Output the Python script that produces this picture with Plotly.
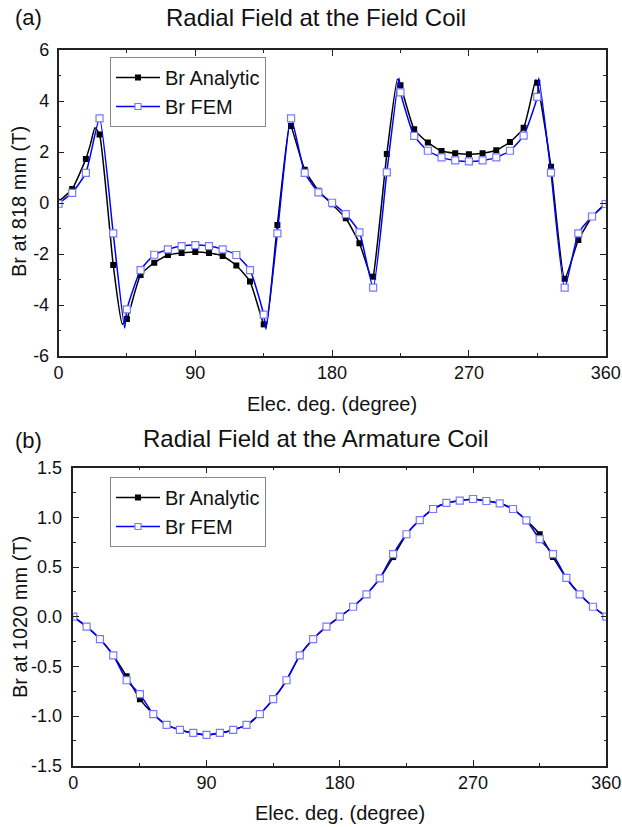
import plotly.graph_objects as go

# ------------------------------
# data (markers every 9 elec. deg)
# ------------------------------
deg = list(range(0, 361, 9))

# (a) radial field at the field coil, r = 818 mm
br_analytic_a = [0.05, 0.55, 1.73, 2.69, -2.43, -4.55, -2.82, -2.34, -2.04, -1.96,
                 -1.92, -1.96, -2.08, -2.45, -3.08, -4.76, -0.86, 3.02, 1.30, 0.48,
                 -0.05, -0.60, -1.58, -2.89, 1.92, 4.62, 2.89, 2.37, 2.04, 1.95,
                 1.91, 1.95, 2.07, 2.39, 2.95, 4.72, 1.42, -2.97, -1.45, -0.55,
                 0.00]
br_fem_a = [-0.03, 0.40, 1.18, 3.32, -1.19, -4.17, -2.63, -2.03, -1.82, -1.69,
            -1.65, -1.69, -1.82, -2.04, -2.63, -4.38, -1.19, 3.32, 1.18, 0.42,
            0.01, -0.44, -1.15, -3.32, 1.20, 4.34, 2.63, 2.05, 1.79, 1.67,
            1.63, 1.67, 1.79, 2.05, 2.64, 4.16, 1.19, -3.32, -1.19, -0.53,
            -0.04]

# the drawn lines are denser than the markers: peaks seen between markers
peak_deg_analytic_a = [21, 24, 42, 136.5, 152, 206, 223, 314]
peak_br_analytic_a = [2.30, 2.95, -4.75, -4.85, 3.10, -2.95, 4.85, 4.82]
peak_deg_fem_a = [43.5, 136.5, 224, 316]
peak_br_fem_a = [-4.90, -4.95, 4.90, 4.90]

# (b) radial field at the armature coil, r = 1020 mm
br_analytic_b = [0.00, -0.10, -0.225, -0.39, -0.60, -0.83, -0.98, -1.09, -1.14, -1.17,
                 -1.19, -1.17, -1.14, -1.09, -0.98, -0.83, -0.64, -0.39, -0.225, -0.10,
                 0.00, 0.10, 0.225, 0.386, 0.60, 0.83, 0.973, 1.084, 1.145, 1.168,
                 1.185, 1.165, 1.14, 1.084, 0.97, 0.83, 0.60, 0.39, 0.225, 0.10,
                 0.00]
br_fem_b = [0.00, -0.10, -0.225, -0.39, -0.64, -0.78, -0.98, -1.09, -1.14, -1.17,
            -1.19, -1.17, -1.14, -1.09, -0.98, -0.83, -0.64, -0.39, -0.225, -0.10,
            0.00, 0.10, 0.225, 0.386, 0.63, 0.83, 0.973, 1.084, 1.145, 1.168,
            1.185, 1.165, 1.14, 1.084, 0.97, 0.78, 0.63, 0.39, 0.225, 0.10,
            0.00]

x_ticks = [0, 90, 180, 270, 360]
y_ticks_a = [-6, -4, -2, 0, 2, 4, 6]
y_labels_a = ["-6", "-4", "-2", "0", "2", "4", "6"]
y_ticks_b = [-1.5, -1.0, -0.5, 0.0, 0.5, 1.0, 1.5]
y_labels_b = ["-1.5", "-1.0", "-0.5", "0.0", "0.5", "1.0", "1.5"]


def merged(xs, ys, extra_x, extra_y):
    pts = sorted(zip(xs + extra_x, ys + extra_y))
    return [p[0] for p in pts], [p[1] for p in pts]


BLACK = "#000000"
BLUE = "#0000ff"
LIGHT_BLUE = "#7878ff"
TXT = "#111111"
FONT = "Arial, Liberation Sans, sans-serif"
W, H = 622, 827


def px(x):
    return x / W


def py(y):
    return 1 - y / H


fig = go.Figure()


def add_pair(xa, ya, leg, line_a, line_f, fem_y, ana_y):
    # lines (denser data) and markers (9 deg)
    fig.add_trace(go.Scatter(x=line_a[0], y=line_a[1], mode="lines",
                             line=dict(color=BLACK, width=1.5, shape="spline", smoothing=0.5),
                             xaxis=xa, yaxis=ya, showlegend=False, hoverinfo="skip"))
    fig.add_trace(go.Scatter(x=deg, y=ana_y, mode="markers",
                             marker=dict(symbol="square", size=6, color=BLACK),
                             xaxis=xa, yaxis=ya, showlegend=False))
    fig.add_trace(go.Scatter(x=line_f[0], y=line_f[1], mode="lines",
                             line=dict(color=BLUE, width=1.5, shape="spline", smoothing=0.5),
                             xaxis=xa, yaxis=ya, showlegend=False, hoverinfo="skip"))
    fig.add_trace(go.Scatter(x=deg, y=fem_y, mode="markers",
                             marker=dict(symbol="square", size=7, color="white",
                                         line=dict(color=LIGHT_BLUE, width=1.2)),
                             xaxis=xa, yaxis=ya, showlegend=False))
    # legend entries
    fig.add_trace(go.Scatter(x=[None], y=[None], mode="lines+markers", name="Br Analytic",
                             line=dict(color=BLACK, width=1.5),
                             marker=dict(symbol="square", size=6, color=BLACK),
                             xaxis=xa, yaxis=ya, legend=leg))
    fig.add_trace(go.Scatter(x=[None], y=[None], mode="lines+markers", name="Br FEM",
                             line=dict(color=BLUE, width=1.5),
                             marker=dict(symbol="square", size=6, color="white",
                                         line=dict(color=LIGHT_BLUE, width=1.2)),
                             xaxis=xa, yaxis=ya, legend=leg))


add_pair("x", "y", "legend",
         merged(deg, br_analytic_a, peak_deg_analytic_a, peak_br_analytic_a),
         merged(deg, br_fem_a, peak_deg_fem_a, peak_br_fem_a),
         br_fem_a, br_analytic_a)
add_pair("x2", "y2", "legend2",
         (deg, br_analytic_b), (deg, br_fem_b),
         br_fem_b, br_analytic_b)

axis_common = dict(showline=True, linecolor="#222222", linewidth=1.5, mirror="ticks",
                   ticks="inside", ticklen=6, tickwidth=1.2, tickcolor="#222222",
                   showgrid=False, zeroline=False, automargin=False,
                   tickfont=dict(size=18, color=TXT, family=FONT))
minor_x = dict(ticks="inside", ticklen=3, dtick=45, tick0=0, tickcolor="#222222")
legend_style = dict(xanchor="left", yanchor="top", bordercolor="#888888", borderwidth=1,
                    bgcolor="white", itemwidth=44, tracegroupgap=0,
                    font=dict(size=20, family=FONT, color=TXT))

fig.update_layout(
    width=W, height=H,
    margin=dict(l=0, r=0, t=0, b=0),
    paper_bgcolor="white", plot_bgcolor="white",
    font=dict(family=FONT, color=TXT),
    xaxis=dict(axis_common, domain=[px(58.5), px(605.7)], range=[0, 360],
               tickvals=x_ticks, anchor="y", ticklabelstandoff=0, minor=minor_x),
    yaxis=dict(axis_common, domain=[py(356), py(50)], range=[-6, 6],
               tickvals=y_ticks_a, ticktext=y_labels_a, anchor="x", ticklabelstandoff=4,
               minor=dict(ticks="inside", ticklen=3, dtick=1, tickcolor="#222222")),
    xaxis2=dict(axis_common, domain=[px(73.3), px(606.3)], range=[0, 360],
                tickvals=x_ticks, anchor="y2", ticklabelstandoff=0, minor=minor_x),
    yaxis2=dict(axis_common, domain=[py(765.7), py(467.7)], range=[-1.5, 1.5],
                tickvals=y_ticks_b, ticktext=y_labels_b, anchor="x2", ticklabelstandoff=6,
                minor=dict(ticks="inside", ticklen=3, dtick=0.25, tickcolor="#222222")),
    legend=dict(legend_style, x=px(110), y=py(57)),
    legend2=dict(legend_style, x=px(110), y=py(477)),
)


def label(text, x, y, size, angle=0):
    fig.add_annotation(text=text, x=px(x), y=py(y), xref="paper", yref="paper",
                       xanchor="center", yanchor="middle",
                       showarrow=False, textangle=angle,
                       font=dict(size=size, family=FONT, color=TXT))


label("(a)", 28, 18, 22)
label("Radial Field at the Field Coil", 316, 17, 24)
label("Elec. deg. (degree)", 332, 404, 20)
label("Br at 818 mm (T)", 19, 202, 20, -90)

label("(b)", 28, 440, 22)
label("Radial Field at the Armature Coil", 316, 438, 24)
label("Elec. deg. (degree)", 340, 813, 20)
label("Br at 1020 mm (T)", 20, 617, 20, -90)

# drop the default 8 px page margin so the figure fills the window exactly
fig.write_html("out.html", config={"displayModeBar": False},
               post_script="document.body.style.margin='0';document.body.style.overflow='hidden';")
